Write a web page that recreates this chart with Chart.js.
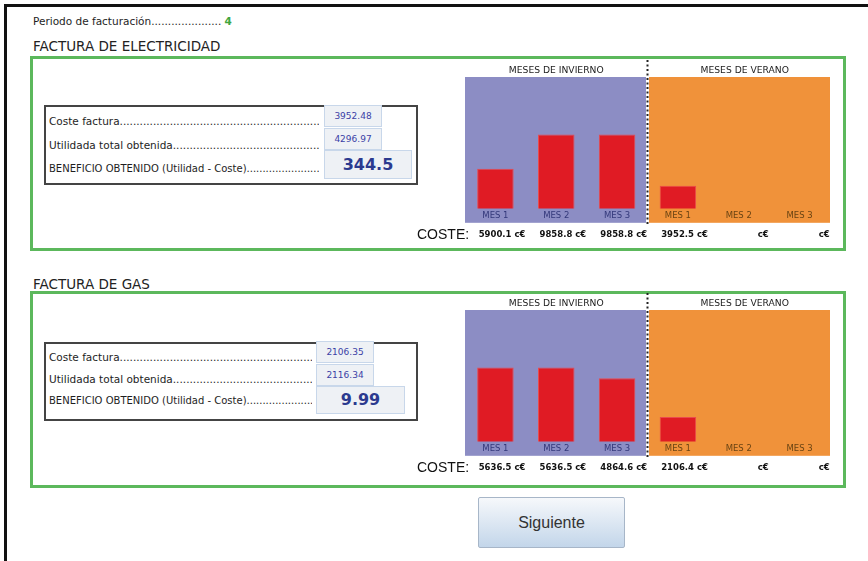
<!DOCTYPE html>
<html lang="es">
<head>
<meta charset="utf-8">
<script src="https://cdn.jsdelivr.net/npm/chart.js@4.4.1/dist/chart.umd.min.js"></script>
<style>
  html, body { margin: 0; padding: 0; background: #fff; }
  body { width: 868px; height: 561px; position: relative; overflow: hidden; font-family: 'DejaVu Sans', sans-serif; color: #1e1e1e; }
  .abs { position: absolute; white-space: nowrap; }
  .marco { position: absolute; left: 4px; top: 4px; width: 880px; height: 600px; border-left: 3px solid #111; border-top: 3px solid #111; }
  .verde { position: absolute; left: 30px; width: 816px; border: 3px solid #5cb85c; box-sizing: border-box; }
  .titulo { font-size: 13.5px; line-height: 16px; color: #222; }
  .caja { position: absolute; border: 2px solid #444; box-sizing: border-box; }
  .fila { position: absolute; overflow: hidden; white-space: nowrap; font-size: 10.5px; line-height: 14px; }
  .valor { position: absolute; background: #eef1f5; border: 1px solid #c8d7ea; box-sizing: border-box; text-align: center; color: #3b3fa6; font-size: 9px; }
  .valor.grande { color: #2b3a8f; font-size: 16px; font-weight: bold; }
  canvas { position: absolute; }
  .boton { position: absolute; left: 478px; top: 497px; width: 147px; height: 51px; box-sizing: border-box;
           border: 1px solid #a7b6c8; border-radius: 2px; background: linear-gradient(#f6f8fb, #c3d6ea);
           font-family: 'Liberation Sans', Arial, sans-serif; font-size: 16px; color: #333; text-align: center; line-height: 49px; }
</style>
</head>
<body>
<div class="marco"></div>

<div class="abs" style="left:33px; top:14px; font-size:10.5px; line-height:14px;">Periodo de facturación..................... <b id="periodo" style="color:#3fa63f"></b></div>

<div class="abs titulo" style="left:33px; top:38px;">FACTURA DE ELECTRICIDAD</div>
<div class="verde" style="top:56px; height:195px;"></div>
<div id="panel-elec"></div>
<canvas id="graficoElectricidad" width="430" height="190" style="left:405px; top:57px;"></canvas>

<div class="abs titulo" style="left:33px; top:276px;">FACTURA DE GAS</div>
<div class="verde" style="top:291px; height:197px;"></div>
<div id="panel-gas"></div>
<canvas id="graficoGas" width="430" height="190" style="left:405px; top:290px;"></canvas>

<div class="boton">Siguiente</div>

<script>
// Datos de la pantalla
const periodo = 4;
const meses = ['MES 1', 'MES 2', 'MES 3', 'MES 1', 'MES 2', 'MES 3'];
const temporadas = ['MESES DE INVIERNO', 'MESES DE VERANO'];
const costeElectricidad = [5900.1, 9858.8, 9858.8, 3952.5, null, null];
const costeGas = [5636.5, 5636.5, 4864.6, 2106.4, null, null];

const conceptos = ['Coste factura', 'Utilidada total obtenida', 'BENEFICIO OBTENIDO (Utilidad - Coste)'];
const facturaElectricidad = ['3952.48', '4296.97', '344.5'];
const facturaGas = ['2106.35', '2116.34', '9.99'];

document.getElementById('periodo').textContent = periodo;

// Cuadro de resumen de cada factura
function pintarPanel(id, valores, geo) {
    const cont = document.getElementById(id);
    let html = `<div class="caja" style="left:44px; top:${geo.top}px; width:374px; height:${geo.alto}px;"></div>`;
    conceptos.forEach((c, i) => {
        const fs = i === 2 ? 10 : 10.5;
        html += `<div class="fila" style="left:49px; top:${geo.filas[i] - 7}px; width:${geo.finPuntos - 49}px; font-size:${fs}px;">${c}${'.'.repeat(80)}</div>`;
        const b = geo.cajas[i];
        html += `<div class="valor${i === 2 ? ' grande' : ''}" style="left:${geo.x}px; top:${b[0]}px; width:${b[2]}px; height:${b[1]}px; line-height:${b[1] - 2}px;">${valores[i]}</div>`;
    });
    cont.innerHTML = html;
}

pintarPanel('panel-elec', facturaElectricidad, {
    top: 105, alto: 80, x: 324, finPuntos: 319,
    filas: [121, 145, 169],
    cajas: [[105, 22, 58], [128, 22, 58], [150, 29, 88]]
});
pintarPanel('panel-gas', facturaGas, {
    top: 342, alto: 79, x: 316, finPuntos: 312,
    filas: [357, 379, 401],
    cajas: [[341, 22, 58], [364, 22, 58], [386, 28, 89]]
});

// Fondo morado / naranja detrás de las barras
const fondoTemporadas = {
    id: 'fondoTemporadas',
    beforeDraw(chart) {
        const { ctx, chartArea, scales: { x } } = chart;
        const sep = (x.getPixelForValue(2) + x.getPixelForValue(3)) / 2;
        const alto = x.bottom - chartArea.top;
        ctx.save();
        ctx.fillStyle = '#8c8dc4';
        ctx.fillRect(x.left, chartArea.top, sep - 1.5 - x.left, alto);
        ctx.fillStyle = '#f0923a';
        ctx.fillRect(sep + 1.5, chartArea.top, x.right - sep - 1.5, alto);
        ctx.restore();
    },
    afterDraw(chart) {
        const { ctx, chartArea, scales: { x, x2 } } = chart;
        const sep = (x.getPixelForValue(2) + x.getPixelForValue(3)) / 2;
        ctx.save();
        // separador punteado
        ctx.strokeStyle = '#222';
        ctx.lineWidth = 2;
        ctx.setLineDash([2, 2.5]);
        ctx.beginPath();
        ctx.moveTo(sep, chartArea.top - 17);
        ctx.lineTo(sep, x.bottom + 3);
        ctx.stroke();
        ctx.setLineDash([]);
        // títulos de temporada
        ctx.fillStyle = '#222';
        ctx.font = '9.2px "DejaVu Sans"';
        ctx.textAlign = 'center';
        ctx.textBaseline = 'middle';
        ctx.fillText(temporadas[0], (x.left + sep) / 2, chartArea.top - 6.5);
        ctx.fillText(temporadas[1], (sep + x.right) / 2 + 6, chartArea.top - 6.5);
        // etiqueta COSTE:
        ctx.fillStyle = '#111';
        ctx.font = '14px "Liberation Sans", Arial';
        ctx.textAlign = 'left';
        ctx.fillText('COSTE:', 12, (x2.top + x2.bottom) / 2);
        ctx.restore();
    }
};

function crearGrafico(id, valores, yMin, yMax) {
    const etiquetasCoste = valores.map(v => v === null ? 'c€' : v.toFixed(1) + ' c€');
    return new Chart(document.getElementById(id), {
        type: 'bar',
        data: {
            labels: meses,
            datasets: [{
                data: valores,
                backgroundColor: '#e01b24',
                borderColor: '#ea4a4d',
                borderWidth: 1,
                barPercentage: 0.6,
                categoryPercentage: 1
            }]
        },
        options: {
            responsive: false,
            animation: false,
            devicePixelRatio: 1,
            layout: { padding: { left: 60, right: 5, top: 20, bottom: 0 } },
            plugins: { legend: { display: false }, tooltip: { enabled: false } },
            scales: {
                x: {
                    weight: 1,
                    grid: { display: false, drawTicks: false },
                    border: { display: false },
                    ticks: {
                        padding: 2,
                        maxRotation: 0,
                        autoSkip: false,
                        font: { family: 'DejaVu Sans', size: 8.5 },
                        color: (c) => c.index < 3 ? '#33387a' : '#6a4413'
                    }
                },
                x2: {
                    type: 'category',
                    labels: etiquetasCoste,
                    position: 'bottom',
                    weight: 2,
                    offset: true,
                    grid: { display: false, drawTicks: false },
                    border: { display: false },
                    ticks: {
                        padding: 7,
                        maxRotation: 0,
                        autoSkip: false,
                        align: 'end',
                        labelOffset: 30,
                        font: { family: 'DejaVu Sans', size: 8.5, weight: 'bold' },
                        color: '#111'
                    }
                },
                y: { display: false, min: yMin, max: yMax }
            }
        },
        plugins: [fondoTemporadas]
    });
}

crearGrafico('graficoElectricidad', costeElectricidad, 1320, 16480);
crearGrafico('graficoGas', costeGas, 356, 9740);
</script>
</body>
</html>
